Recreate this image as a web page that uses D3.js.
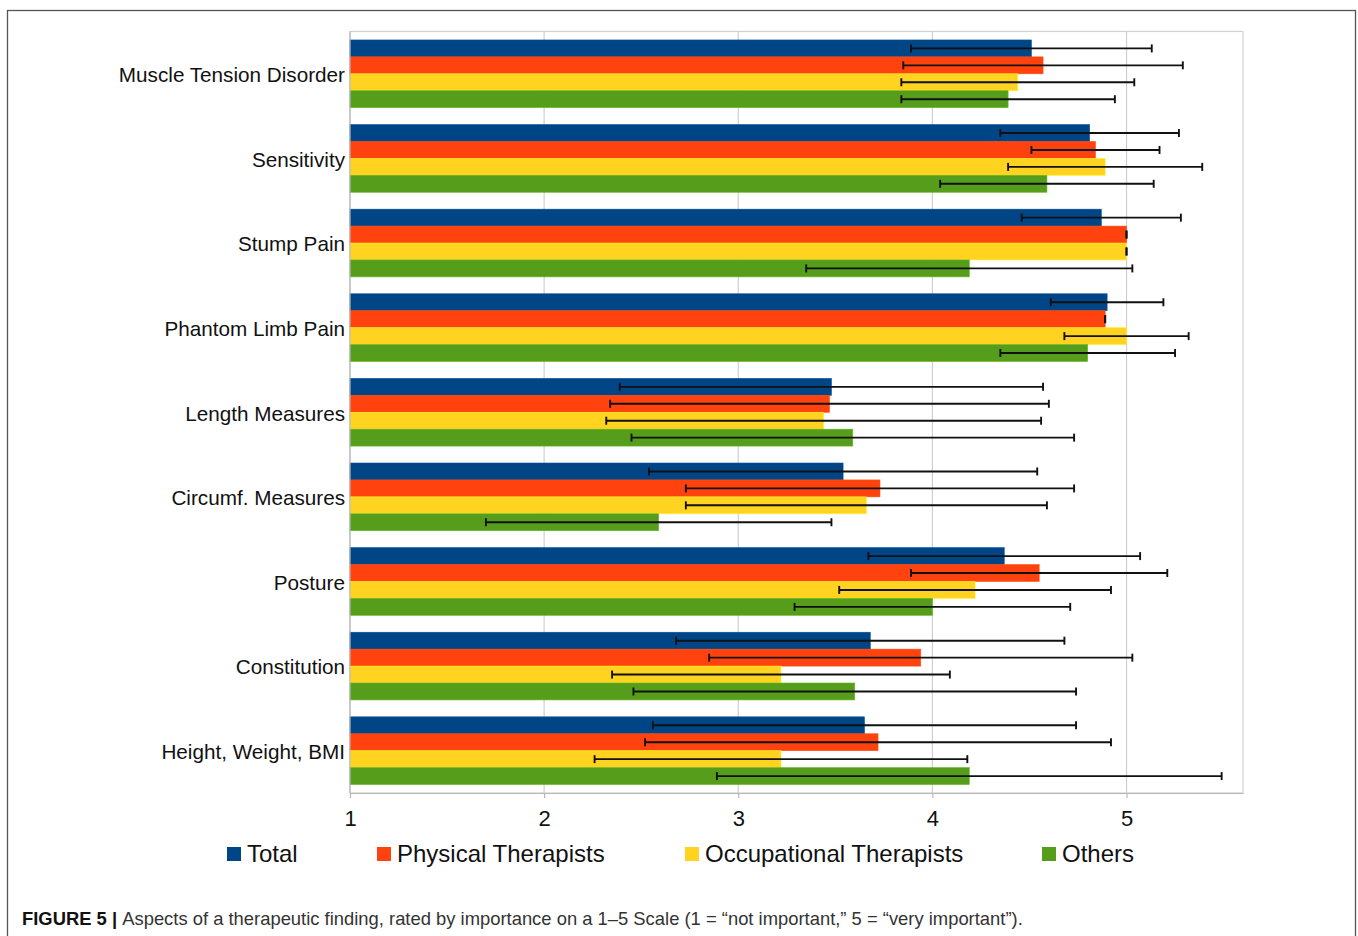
<!DOCTYPE html>
<html>
<head>
<meta charset="utf-8">
<script src="https://cdn.jsdelivr.net/npm/d3@7"></script>
<style>
  html, body { margin: 0; padding: 0; background: #fff; }
  svg { display: block; }
</style>
</head>
<body>
<svg id="chart" width="1358" height="936"></svg>
<script>
// Aspects rated on a 1–5 importance scale: mean and standard deviation per group
const categories = [
  "Muscle Tension Disorder", "Sensitivity", "Stump Pain", "Phantom Limb Pain",
  "Length Measures", "Circumf. Measures", "Posture", "Constitution", "Height, Weight, BMI"
];
const seriesNames = ["Total", "Physical Therapists", "Occupational Therapists", "Others"];
const seriesColors = ["#004586", "#ff420e", "#ffd320", "#579d1c"];

const totalMean  = [4.51, 4.81, 4.87, 4.90, 3.48, 3.54, 4.37, 3.68, 3.65];
const totalSd    = [0.62, 0.46, 0.41, 0.29, 1.09, 1.00, 0.70, 1.00, 1.09];
const ptMean     = [4.57, 4.84, 5.00, 4.89, 3.47, 3.73, 4.55, 3.94, 3.72];
const ptSd       = [0.72, 0.33, 0.00, 0.00, 1.13, 1.00, 0.66, 1.09, 1.20];
const otMean     = [4.44, 4.89, 5.00, 5.00, 3.44, 3.66, 4.22, 3.22, 3.22];
const otSd       = [0.60, 0.50, 0.00, 0.32, 1.12, 0.93, 0.70, 0.87, 0.96];
const othersMean = [4.39, 4.59, 4.19, 4.80, 3.59, 2.59, 4.00, 3.60, 4.19];
const othersSd   = [0.55, 0.55, 0.84, 0.45, 1.14, 0.89, 0.71, 1.14, 1.30];

const xTicks = [1, 2, 3, 4, 5];
const xDomain = [1, 5.6];
const caption = "Aspects of a therapeutic finding, rated by importance on a 1\u20135 Scale (1 = \u201cnot important,\u201d 5 = \u201cvery important\u201d).";

const means = [totalMean, ptMean, otMean, othersMean];
const sds = [totalSd, ptSd, otSd, othersSd];

const rows = [];
categories.forEach((c, i) => {
  seriesNames.forEach((s, j) => {
    rows.push({ category: c, series: s, mean: means[j][i], sd: sds[j][i], color: seriesColors[j] });
  });
});

const svg = d3.select("#chart");
const font = "'Liberation Sans', Arial, sans-serif";

// outer figure frame
svg.append("rect")
  .attr("x", 7.5).attr("y", 10.5)
  .attr("width", 1348).attr("height", 940)
  .attr("fill", "none").attr("stroke", "#555").attr("stroke-width", 1.3);

const plot = { left: 350, right: 1243, top: 31.5, bottom: 793 };

const x = d3.scaleLinear().domain(xDomain).range([plot.left, plot.right]);
const y = d3.scaleBand().domain(categories)
  .range([plot.top, plot.bottom]).paddingInner(0.2).paddingOuter(0.1);
const ySub = d3.scaleBand().domain(seriesNames).range([0, y.bandwidth()]);

// plot frame and vertical gridlines
svg.append("rect")
  .attr("x", plot.left).attr("y", plot.top)
  .attr("width", plot.right - plot.left).attr("height", plot.bottom - plot.top)
  .attr("fill", "none").attr("stroke", "#d0d0d0").attr("stroke-width", 1.2);

svg.append("g").selectAll("line").data(xTicks.slice(1)).join("line")
  .attr("x1", d => x(d)).attr("x2", d => x(d))
  .attr("y1", plot.top).attr("y2", plot.bottom)
  .attr("stroke", "#cfcfcf").attr("stroke-width", 1.2);

// bars
svg.append("g").selectAll("rect").data(rows).join("rect")
  .attr("x", x(1))
  .attr("y", d => y(d.category) + ySub(d.series))
  .attr("width", d => x(d.mean) - x(1))
  .attr("height", ySub.bandwidth())
  .attr("fill", d => d.color)
  .attr("stroke", d => d3.color(d.color).brighter(0.4))
  .attr("stroke-width", 0.6);

// error bars (mean ± sd)
const capH = 4;
const eb = svg.append("g").attr("stroke", "#111").attr("stroke-width", 1.9);
rows.forEach(d => {
  const cy = y(d.category) + ySub(d.series) + ySub.bandwidth() / 2;
  const x0 = x(d.mean - d.sd), x1 = x(d.mean + d.sd);
  eb.append("line").attr("x1", x0).attr("x2", x1).attr("y1", cy).attr("y2", cy);
  eb.append("line").attr("x1", x0).attr("x2", x0).attr("y1", cy - capH).attr("y2", cy + capH);
  eb.append("line").attr("x1", x1).attr("x2", x1).attr("y1", cy - capH).attr("y2", cy + capH);
});

// x axis
const xAxis = svg.append("g")
  .attr("transform", `translate(0,${plot.bottom})`)
  .call(d3.axisBottom(x).tickValues(xTicks).tickFormat(d3.format("d"))
    .tickSize(5).tickSizeOuter(0).tickPadding(12));
xAxis.select(".domain").attr("stroke", "#b8b8b8").attr("stroke-width", 1.2);
xAxis.selectAll(".tick line").attr("stroke", "#b8b8b8").attr("stroke-width", 1.2);
xAxis.selectAll(".tick text")
  .attr("font-family", font).attr("font-size", 22).attr("fill", "#111");

// left axis line
svg.append("line")
  .attr("x1", plot.left).attr("x2", plot.left)
  .attr("y1", plot.top).attr("y2", plot.bottom)
  .attr("stroke", "#b8b8b8").attr("stroke-width", 1.2);

// category labels
const yAxis = svg.append("g")
  .attr("transform", `translate(${plot.left},0)`)
  .call(d3.axisLeft(y).tickSize(0).tickPadding(5));
yAxis.select(".domain").remove();
yAxis.selectAll(".tick text")
  .attr("font-family", font).attr("font-size", 20.7).attr("fill", "#111")
  .attr("dy", "0.4em");

// legend
const legendX = [227, 377, 685, 1042];
const legend = svg.append("g").selectAll("g").data(seriesNames).join("g")
  .attr("transform", (d, i) => `translate(${legendX[i]},847)`);
legend.append("rect")
  .attr("width", 14).attr("height", 14)
  .attr("fill", (d, i) => seriesColors[i]);
legend.append("text")
  .attr("x", 20).attr("y", 15)
  .attr("font-family", font).attr("font-size", 24).attr("fill", "#111")
  .text(d => d);

// caption
const cap = svg.append("text")
  .attr("x", 22).attr("y", 925)
  .attr("font-family", font).attr("font-size", 18.4).attr("fill", "#333");
cap.append("tspan").attr("font-weight", "bold").attr("fill", "#111").text("FIGURE 5 | ");
cap.append("tspan").text(caption);
</script>
</body>
</html>
